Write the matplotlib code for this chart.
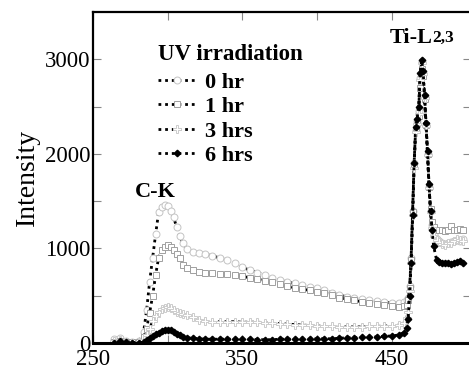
import numpy as np
import matplotlib
matplotlib.use("Agg")
import matplotlib.pyplot as plt

plt.rcParams['font.family'] = ['Liberation Serif', 'DejaVu Serif']

# -----------------------------
# Data
# -----------------------------
energy = [264, 268, 272, 276, 281, 284, 286, 288, 290, 292,
          294, 296, 298, 300, 302, 304, 306, 308, 310, 313,
          317, 321, 325, 330, 335, 340, 345, 350, 355, 360,
          365, 370, 375, 380, 385, 390, 395, 400, 405, 410,
          415, 420, 425, 430, 435, 440, 445, 450, 455, 458,
          460, 461, 462, 463, 464, 465, 466, 467, 468, 469,
          470, 471, 472, 473, 474, 475, 476, 477, 478, 480,
          482, 484, 486, 488, 490, 492, 494, 496, 498]

hr0 = [40, 50, 20, 10, 20, 120, 350, 650, 900, 1150,
       1380, 1440, 1460, 1450, 1400, 1330, 1230, 1130, 1060, 990,
       960, 950, 940, 920, 900, 875, 845, 800, 770, 745,
       720, 690, 665, 645, 630, 610, 595, 580, 555, 530,
       505, 490, 475, 460, 450, 440, 430, 425, 420, 430,
       450, 480, 600, 900, 1400, 1900, 2250, 2350, 2450, 2800,
       2980, 2850, 2600, 2300, 2000, 1650, 1400, 1250, 1150, 1100,
       1080, 1060, 1050, 1060, 1070, 1080, 1090, 1080, 1100]

hr1 = [10, 20, 10, 10, 10, 60, 150, 320, 500, 720,
       900, 980, 1020, 1035, 1020, 980, 940, 900, 820, 790,
       770, 755, 745, 740, 730, 725, 720, 705, 690, 675,
       660, 640, 620, 600, 585, 570, 555, 540, 525, 505,
       480, 465, 450, 435, 420, 410, 400, 390, 385, 390,
       400, 450, 580, 880, 1380, 1880, 2250, 2330, 2400, 2700,
       2900, 2820, 2580, 2300, 2000, 1650, 1420, 1280, 1230, 1200,
       1190, 1190, 1180, 1190, 1240, 1200, 1190, 1210, 1200]

hr3 = [20, 30, 10, 0, 10, 30, 80, 150, 230, 290,
       330, 360, 375, 380, 370, 350, 330, 315, 305, 295,
       270, 245, 230, 225, 225, 225, 225, 220, 220, 220,
       215, 210, 205, 200, 195, 190, 185, 180, 175, 175,
       170, 170, 170, 170, 175, 175, 180, 180, 190, 210,
       260, 330, 550, 850, 1350, 1850, 2230, 2320, 2420, 2780,
       2960, 2840, 2590, 2290, 1990, 1640, 1380, 1220, 1130, 1090,
       1070, 1050, 1040, 1055, 1060, 1080, 1100, 1090, 1080]

hr6 = [0, 20, 10, 0, 0, 10, 30, 50, 70, 90,
       110, 130, 140, 140, 135, 120, 100, 80, 65, 55,
       50, 45, 40, 40, 40, 40, 40, 40, 40, 35,
       35, 35, 40, 40, 40, 40, 40, 45, 45, 45,
       50, 55, 55, 60, 60, 65, 70, 75, 85, 110,
       160, 250, 500, 850, 1350, 1900, 2280, 2370, 2500, 2850,
       2990, 2880, 2620, 2330, 2030, 1680, 1400, 1200, 1030, 880,
       860, 850, 845, 850, 840, 850, 860, 870, 850]

labels = ["0 hr", "1 hr", "3 hrs", "6 hrs"]

# -----------------------------
# Figure
# -----------------------------
fig = plt.figure(figsize=(4.69, 3.69), dpi=100)
ax = fig.add_axes([0.198, 0.0705, 0.806, 0.897])

dots = (0, (1, 1.4))
ax.plot(energy, hr0, linestyle=dots, color='k', lw=2,
        marker='o', ms=5, mfc='white', mec='#c4c4c4', mew=0.7, label=labels[0])
ax.plot(energy, hr1, linestyle=dots, color='k', lw=2,
        marker='s', ms=5, mfc='white', mec='#a0a0a0', mew=0.7, label=labels[1])
ax.plot(energy, hr3, linestyle=dots, color='k', lw=2,
        marker='P', ms=6, mfc='white', mec='#cccccc', mew=0.7, label=labels[2])
ax.plot(energy, hr6, linestyle=dots, color='k', lw=2,
        marker='D', ms=3.3, mfc='k', mec='k', label=labels[3])

ax.set_xlim(250, 503)
ax.set_ylim(0, 3500)
ax.set_xticks([250, 350, 450])
ax.set_xticks([300, 400], minor=True)
ax.set_yticks([0, 1000, 2000, 3000])
ax.set_yticks([500, 1500, 2500], minor=True)
ax.tick_params(which='both', direction='in', top=True, right=True,
               length=6, width=0.8, color='#888888', labelsize=16.5)
ax.tick_params(axis='y', pad=2)
ax.tick_params(axis='x', pad=4)
for s in ax.spines.values():
    s.set_linewidth(1.6)
ax.spines['bottom'].set_linewidth(2.2)

ax.set_ylabel("Intensity", fontsize=20, labelpad=3)

leg = ax.legend(title="UV irradiation", loc='upper left',
                bbox_to_anchor=(0.15, 0.93), frameon=False,
                numpoints=1, handlelength=1.7, handletextpad=0.4,
                labelspacing=0.18, borderaxespad=0,
                prop={'size': 16, 'weight': 'bold'},
                title_fontproperties={'size': 16.5, 'weight': 'bold'})
leg._legend_box.align = "left"
leg._legend_box.sep = 5

ax.text(292, 1600, "C-K", fontsize=16, fontweight='bold', ha='center', va='center')
t = ax.text(463, 3230, "Ti-L", fontsize=16, fontweight='bold', ha='center', va='center')
ax.annotate("2,3", xy=(1, 0.1), xycoords=t, fontsize=12.5, fontweight='bold',
            ha='left', va='bottom')

fig.savefig("out.png", dpi=100)
